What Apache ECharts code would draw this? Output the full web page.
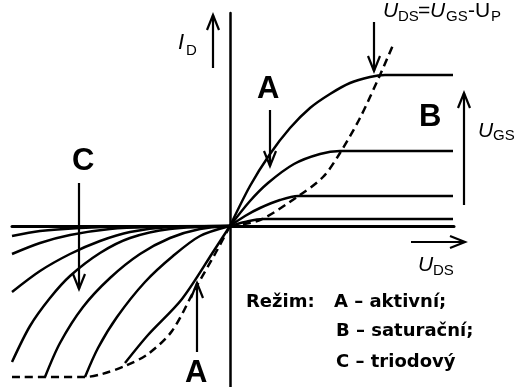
<!DOCTYPE html>
<html>
<head>
<meta charset="utf-8">
<script src="https://cdn.jsdelivr.net/npm/echarts@6/dist/echarts.min.js"></script>
<style>
  html, body { margin: 0; padding: 0; background: #fff; }
  #chart { width: 522px; height: 387px; }
</style>
</head>
<body>
<div id="chart"></div>
<script>
// U_DS on x, I_D on y (arbitrary units)
// first quadrant: one curve per U_GS step, flat after the knee
const ugs4 = [[0,0],[20,40],[40,72],[60,98],[80,118],[100,132],[120,143],[140,149],[155,151],[223,151]];
const ugs3 = [[0,0],[20,25],[38,43],[64,62],[90,72],[110,75],[223,75]];
const ugs2 = [[0,0],[15,10],[30,18],[50,26],[68,30],[223,30]];
const ugs1 = [[0,0],[15,4],[33,7],[223,7]];
// U_DS = U_GS - U_P boundary
const knee = [[0,0],[30,6],[67,29],[93,49],[110,73],[130,108],[150,151],[163,181]];

// third quadrant (negative U_DS)
const neg1 = [[-218,-10],[-190,-5],[-150,-2],[-100,-0.5],[0,0]];
const neg2 = [[-218,-28],[-190,-17],[-160,-9],[-120,-3],[-80,-1],[0,0]];
const neg3 = [[-218,-66],[-190,-45],[-160,-28],[-130,-15],[-100,-6],[-60,-1],[0,0]];
const neg4 = [[-218,-136],[-200,-100],[-180,-72],[-160,-50],[-130,-27],[-100,-12],[-60,-3],[0,0]];
const neg5 = [[-185,-151],[-170,-117],[-147,-81],[-120,-52],[-90,-28],[-60,-12],[-30,-3],[0,0]];
const neg6 = [[-145,-151],[-132,-122],[-113,-91],[-85,-56],[-57,-30],[-30,-10],[0,0]];
const neg7 = [[-105,-137],[-82,-109],[-48,-73],[-15,-23],[0,0]];
const kneeNeg = [[-218,-151],[-145,-151],[-128,-148],[-105,-140],[-82,-128],[-58,-105],[-35,-63],[-15,-28],[0,0]];

const solid = [ugs4, ugs3, ugs2, ugs1, neg1, neg2, neg3, neg4, neg5, neg6, neg7];
const dashed = [knee, kneeNeg];

const FONT = '"Liberation Sans", Arial, sans-serif';
const FONT2 = '"DejaVu Sans", sans-serif';

function curve (data, dash) {
  return {
    type: 'line',
    data: data,
    smooth: 0.3,
    symbol: 'none',
    silent: true,
    lineStyle: { color: '#000', width: 2.5, type: dash ? [8, 5] : 'solid' }
  };
}

function txt (x, y, s, size, opt) {
  opt = opt || {};
  return {
    type: 'text', x: x, y: y, z: 10,
    style: {
      text: s, fill: '#000',
      fontSize: size,
      fontFamily: opt.family || FONT,
      fontWeight: opt.bold ? 'bold' : 'normal',
      fontStyle: opt.italic ? 'italic' : 'normal',
      align: 'left', verticalAlign: 'middle'
    }
  };
}

// arrow with an open head at (x2, y2)
function arrow (x1, y1, x2, y2) {
  const a = Math.atan2(y2 - y1, x2 - x1);
  const len = 15, hw = 6;
  const bx = x2 - len * Math.cos(a), by = y2 - len * Math.sin(a);
  const px = -Math.sin(a) * hw, py = Math.cos(a) * hw;
  const st = { stroke: '#000', lineWidth: 2.2, fill: null };
  return [
    { type: 'line', z: 10, shape: { x1: x1, y1: y1, x2: x2, y2: y2 }, style: st },
    { type: 'polyline', z: 10, shape: { points: [[bx + px, by + py], [x2, y2], [bx - px, by - py]] }, style: st }
  ];
}

const graphics = [].concat(
  arrow(213, 68, 213, 15),
  arrow(374, 22, 374, 71),
  arrow(270, 110, 270, 166),
  arrow(464, 205, 464, 93),
  arrow(79, 183, 79, 289),
  arrow(197, 352, 197, 283),
  arrow(411, 242, 465, 242),
  [
    txt(178, 43, 'I', 22, { italic: true }),
    txt(186, 51, 'D', 15),

    txt(383, 11, 'U', 21, { italic: true }),
    txt(398, 17, 'DS', 15),
    txt(418, 11, '=', 21),
    txt(430, 11, 'U', 21, { italic: true }),
    txt(446, 17, 'GS', 15),
    txt(468, 11, '-U', 21),
    txt(491, 17, 'P', 15),

    txt(478, 131, 'U', 21, { italic: true }),
    txt(493, 136, 'GS', 15),

    txt(418, 265, 'U', 21, { italic: true }),
    txt(433, 271, 'DS', 15),

    txt(257, 89, 'A', 31, { bold: true }),
    txt(419, 117, 'B', 31, { bold: true }),
    txt(72, 161, 'C', 31, { bold: true }),
    txt(185, 373, 'A', 31, { bold: true }),

    txt(246, 302, 'Režim:', 18, { bold: true, family: FONT2 }),
    txt(334, 302, 'A – aktivní;', 18, { bold: true, family: FONT2 }),
    txt(336, 331, 'B – saturační;', 18, { bold: true, family: FONT2 }),
    txt(336, 362, 'C – triodový', 18, { bold: true, family: FONT2 })
  ]
);

const chart = echarts.init(document.getElementById('chart'), null, { renderer: 'canvas' });
chart.setOption({
  animation: false,
  backgroundColor: '#fff',
  grid: { left: 12, right: 68, top: 13, bottom: 0 },
  xAxis: {
    type: 'value', min: -218, max: 224,
    axisLine: { show: true, onZero: true, lineStyle: { color: '#000', width: 3 } },
    axisTick: { show: false }, axisLabel: { show: false }, splitLine: { show: false }
  },
  yAxis: {
    type: 'value', min: -161, max: 213,
    axisLine: { show: true, onZero: true, lineStyle: { color: '#000', width: 2.5 } },
    axisTick: { show: false }, axisLabel: { show: false }, splitLine: { show: false }
  },
  series: solid.map(d => curve(d, false)).concat(dashed.map(d => curve(d, true))),
  graphic: graphics
});
</script>
</body>
</html>
